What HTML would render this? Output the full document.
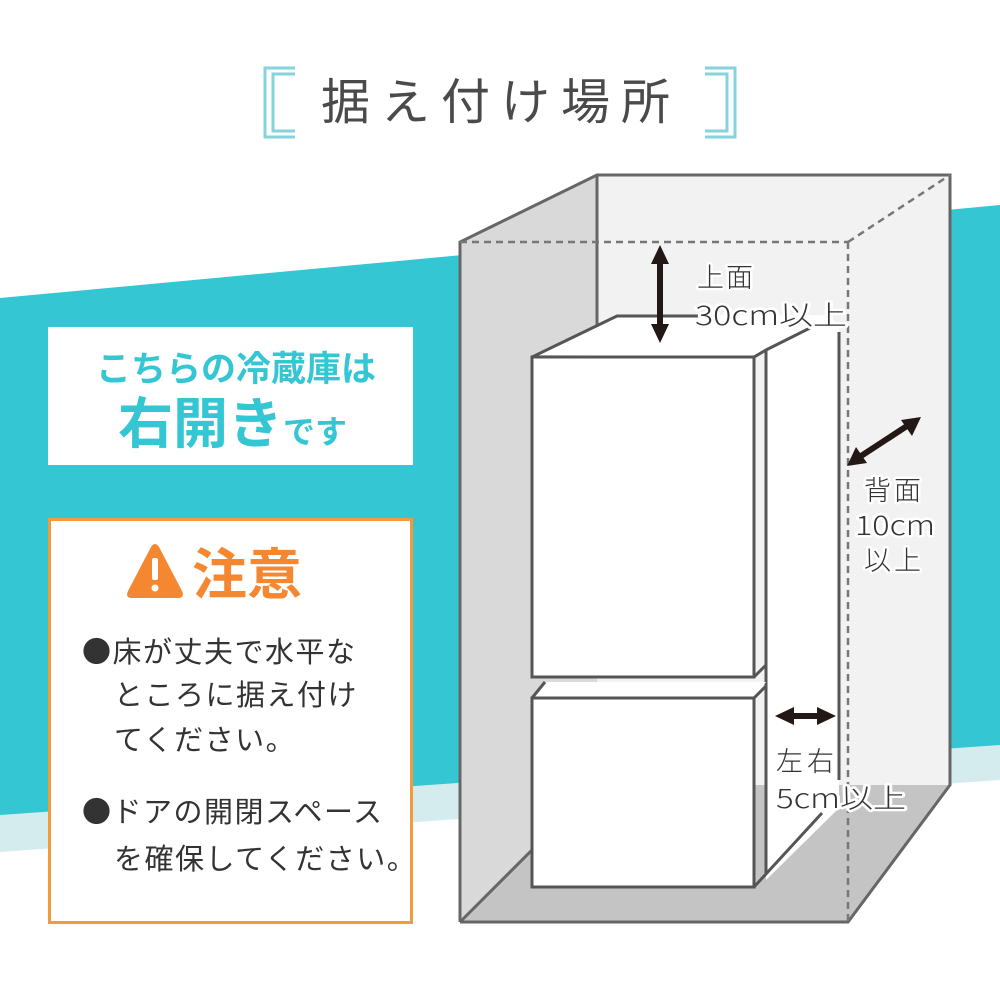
<!DOCTYPE html>
<html><head><meta charset="utf-8"><style>
html,body{margin:0;padding:0;background:#fff}
svg{display:block}
text{font-family:"Noto Sans CJK JP","Liberation Sans",sans-serif}
</style></head><body>
<svg width="1000" height="1000" viewBox="0 0 1000 1000" xmlns="http://www.w3.org/2000/svg">
<rect width="1000" height="1000" fill="#fff"/>
<polygon points="0,810 1000,742 1000,780 0,852" fill="#d5ecef"/>
<polygon points="0,298 1000,205 1000,745 0,815" fill="#34c6d2"/>
<g fill="none" stroke="#86d3de" stroke-width="3">
<polyline points="295,68 265,68 265,137 295,137"/>
<polyline points="295,74 273,74 273,131 295,131"/>
<polyline points="705,68 735,68 735,137 705,137"/>
<polyline points="705,74 727,74 727,131 705,131"/>
</g>
<text x="501" y="119" font-size="49" fill="#4a4a4a" text-anchor="middle" letter-spacing="11">据え付け場所</text>

<rect x="48" y="327" width="365" height="138" fill="#fff"/>
<text x="236" y="381" font-size="35" font-weight="bold" fill="#34c6d2" text-anchor="middle">こちらの冷蔵庫は</text>
<text x="118" y="443" font-size="55" font-weight="bold" fill="#34c6d2">右開き<tspan font-size="32">です</tspan></text>

<rect x="49.5" y="519.5" width="362" height="403" fill="#fff" stroke="#f39a3c" stroke-width="3"/>
<path d="M151,547 Q155,541 159,547 L182,591 Q185,598 178,598 L132,598 Q125,598 128,591 Z" fill="#f4872f"/>
<rect x="152" y="558" width="6" height="22" rx="2" fill="#fff"/>
<circle cx="155" cy="588" r="3.5" fill="#fff"/>
<text x="192" y="594" font-size="55" font-weight="bold" fill="#f4872f">注意</text>
<g font-size="29" fill="#333" letter-spacing="1.5">
<text x="82" y="662">●床が丈夫で水平な</text>
<text x="114" y="705">ところに据え付け</text>
<text x="114" y="750">てください。</text>
<text x="82" y="822">●ドアの開閉スペース</text>
<text x="114" y="869">を確保してください。</text>
</g>

<polygon points="597,175 950,175 950,785 597,785" fill="#f2f2f2"/>
<polygon points="460,242 597,175 597,785 460,922" fill="#d9d9d9"/>
<polygon points="460,922 848,922 950,785 597,785" fill="#c4c4c4"/>
<g fill="none" stroke="#666" stroke-width="3">
<polyline points="460,922 460,242 597,175 950,175 950,785 848,922 460,922"/>
<line x1="597" y1="175" x2="597" y2="330"/>
<line x1="460" y1="922" x2="600" y2="782"/>
</g>
<g fill="none" stroke="#777" stroke-width="2.5" stroke-dasharray="7,5">
<line x1="460" y1="242" x2="848" y2="242"/>
<line x1="848" y1="242" x2="848" y2="922"/>
<line x1="848" y1="242" x2="950" y2="175"/>
</g>

<g stroke="#555" stroke-width="3">
<polygon points="766,352 839,328 839,808 766,880" fill="#fff" stroke="none"/>
<polygon points="532,355 617,315 830,315 839,328 766,352 754,357" fill="#fff" stroke="none"/>
<polyline points="532,357 617,316 700,316" fill="none"/>
<polyline points="532,357 754,357 766,350 810,328" fill="none"/>
<line x1="839" y1="332" x2="839" y2="780"/>
<rect x="532" y="357" width="222" height="320" fill="#fff"/>
<line x1="766" y1="350" x2="766" y2="873"/>
<line x1="754" y1="677" x2="766" y2="665"/>
<polygon points="532,698 545,682 766,682 754,698" fill="#fff" stroke="none"/>
<line x1="532" y1="698" x2="545" y2="682"/>
<rect x="532" y="698" width="222" height="189" fill="#fff"/>
<line x1="754" y1="698" x2="766" y2="686"/>
<line x1="754" y1="887" x2="822" y2="813"/>
</g>

<g fill="#231815" stroke="#231815">
<line x1="660" y1="258" x2="660" y2="330" stroke-width="6"/>
<polygon points="660,245 651,264 669,264" stroke="none"/>
<polygon points="660,343 651,324 669,324" stroke="none"/>
<line x1="858" y1="458" x2="910" y2="424" stroke-width="6"/>
<polygon points="847,466 856,447 867,463" stroke="none"/>
<polygon points="921,417 901,420 912,436" stroke="none"/>
<line x1="788" y1="716" x2="822" y2="716" stroke-width="6"/>
<polygon points="775,716 794,707 794,725" stroke="none"/>
<polygon points="836,716 817,707 817,725" stroke="none"/>
</g>

<g font-size="27" fill="#333" stroke="#fff" stroke-width="5" paint-order="stroke" stroke-linejoin="round" font-weight="300">
<text x="697" y="287" letter-spacing="2">上面</text>
<text x="695" y="325" textLength="152" lengthAdjust="spacingAndGlyphs">30cm以上</text>
<text x="864" y="500" letter-spacing="3">背面</text>
<text x="855" y="535" textLength="80" lengthAdjust="spacingAndGlyphs">10cm</text>
<text x="864" y="570" letter-spacing="3">以上</text>
<text x="776" y="771" letter-spacing="4">左右</text>
<text x="776" y="808" textLength="130" lengthAdjust="spacingAndGlyphs">5cm以上</text>
</g>
</svg>
</body></html>
